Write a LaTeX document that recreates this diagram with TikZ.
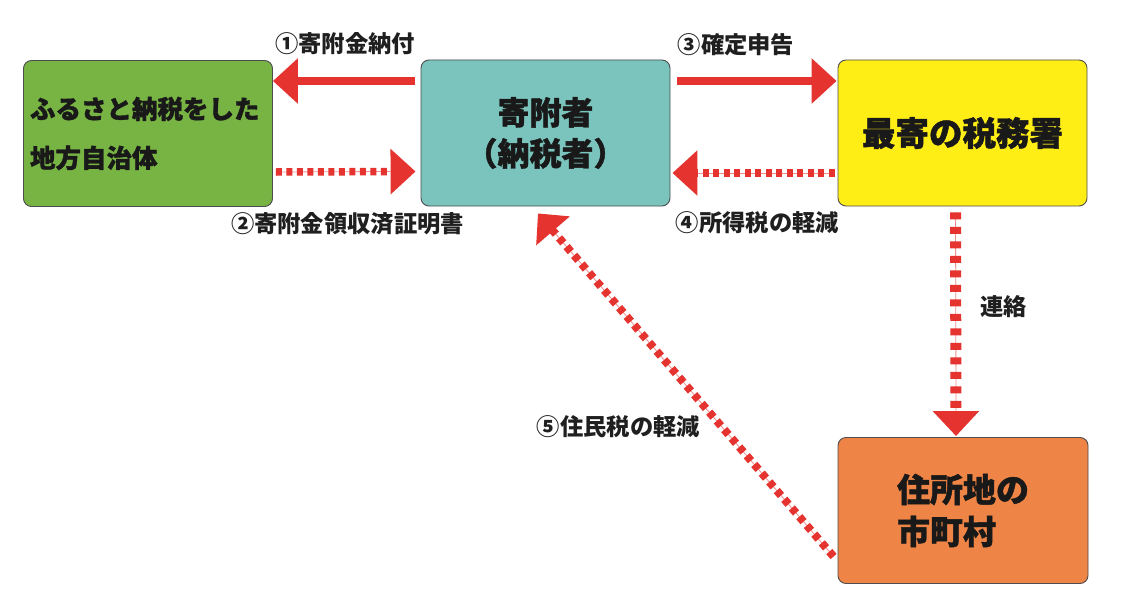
\documentclass[tikz,border=0pt]{standalone}
\usepackage{fontspec}
\usetikzlibrary{arrows.meta,calc}
\newfontfamily\jp{Noto Sans CJK JP}
\newfontfamily\jph{Noto Sans CJK JP}[BoldFeatures={FakeBold=1.3}]
\definecolor{boxgreen}{HTML}{78B443}
\definecolor{boxteal}{HTML}{7AC4BD}
\definecolor{boxyellow}{HTML}{FFEE16}
\definecolor{boxorange}{HTML}{EE8446}
\definecolor{arrred}{HTML}{E53430}
\definecolor{edgegray}{HTML}{4D4D4D}
\tikzset{
  box/.style={draw=edgegray, line width=0.9pt, rounded corners=8pt,
    minimum width=249pt, minimum height=146pt, inner sep=0pt,
    font=\jph\bfseries, text=black!90},
  elabel/.style={font=\jp\bfseries\fontsize{23.3pt}{28pt}\selectfont, text=black!88, inner sep=0pt},
  solidarrow/.style={draw=arrred, line width=8pt, -{Triangle[length=25pt,width=44pt]}},
  dotarrow/.style={draw=arrred, line width=7.5pt, dash pattern=on 6pt off 4.5pt, -{Triangle[length=25pt,width=44pt]}},
  vdotarrow/.style={draw=arrred, line width=11pt, dash pattern=on 7pt off 7.5pt, -{Triangle[length=25pt,width=45pt]}},
  ddotarrow/.style={draw=arrred, line width=8pt, dash pattern=on 6.5pt off 5pt, -{Triangle[length=23pt,width=43pt]}},
  thinline/.style={draw=arrred!55!white, line width=0.8pt},
}
\begin{document}
\begin{tikzpicture}[x=1pt,y=-1pt]
\useasboundingbox[fill=white] (0,0) rectangle (1127,610);

% boxes
\node[box, fill=boxgreen, align=left, text width=236pt,
  font=\jph\bfseries\fontsize{25.5pt}{49pt}\selectfont] (green) at (148,133.5)
  {ふるさと納税をした\\地方自治体};
\node[box, fill=boxteal, align=center,
  font=\jph\bfseries\fontsize{32pt}{41pt}\selectfont] (teal) at (545.5,133)
  {寄附者\\（納税者）};
\node[box, fill=boxyellow,
  font=\jph\bfseries\fontsize{33.5pt}{40pt}\selectfont] (yellow) at (962.5,133)
  {最寄の税務署};
\node[box, fill=boxorange, align=left, text width=132pt, minimum width=250pt,
  font=\jph\bfseries\fontsize{33pt}{42pt}\selectfont] (orange) at (963,510.5)
  {住所地の\\市町村};

% endpoints of the diagonal connector
\coordinate (d5s) at ([xshift=-4pt,yshift=-46pt]orange.west);
\coordinate (d5e) at ([xshift=-7.5pt,yshift=-7pt]teal.south);

% ① solid: teal -> green
\draw[solidarrow] ([xshift=-6pt,yshift=52pt]teal.west) -- ([yshift=52.5pt]green.east);
% ③ solid: teal -> yellow
\draw[solidarrow] ([xshift=7pt,yshift=52pt]teal.east) -- ([xshift=-1pt,yshift=52pt]yellow.west);

% ② dotted: green -> teal
\draw[thinline] ([xshift=3pt,yshift=-38.5pt]green.east) -- ([xshift=-30pt,yshift=-38.5pt]teal.west);
\draw[dotarrow] ([xshift=3pt,yshift=-38.5pt]green.east) -- ([xshift=-5pt,yshift=-38.5pt]teal.west);
% ④ dotted: yellow -> teal
\draw[thinline] ([xshift=-3pt,yshift=-40pt]yellow.west) -- ([xshift=27pt,yshift=-40pt]teal.east);
\draw[dotarrow] ([xshift=-3pt,yshift=-40pt]yellow.west) -- ([xshift=2pt,yshift=-40pt]teal.east);
% 連絡 vertical: yellow -> orange
\draw[thinline] ([xshift=-7pt,yshift=-6pt]yellow.south) -- ([xshift=-7pt,yshift=26pt]orange.north);
\draw[vdotarrow] ([xshift=-7pt,yshift=-6pt]yellow.south) -- ([xshift=-7pt,yshift=1pt]orange.north);
% ⑤ diagonal: orange -> teal
\draw[thinline] (d5s) -- ($(d5e)!20pt!(d5s)$);
\draw[ddotarrow] (d5s) -- (d5e);

% labels
\node[elabel] (l1) at (345,44) {①寄附金納付};
\node[elabel] (l2) at (347.5,224) {②寄附金領収済証明書};
\node[elabel] (l3) at (736,45) {③確定申告};
\node[elabel] (l4) at (757.5,223) {④所得税の軽減};
\node[elabel] (l6) at (1003.5,307) {連絡};
\node[elabel] (l5) at (618.5,427) {⑤住民税の軽減};
\end{tikzpicture}
\end{document}
